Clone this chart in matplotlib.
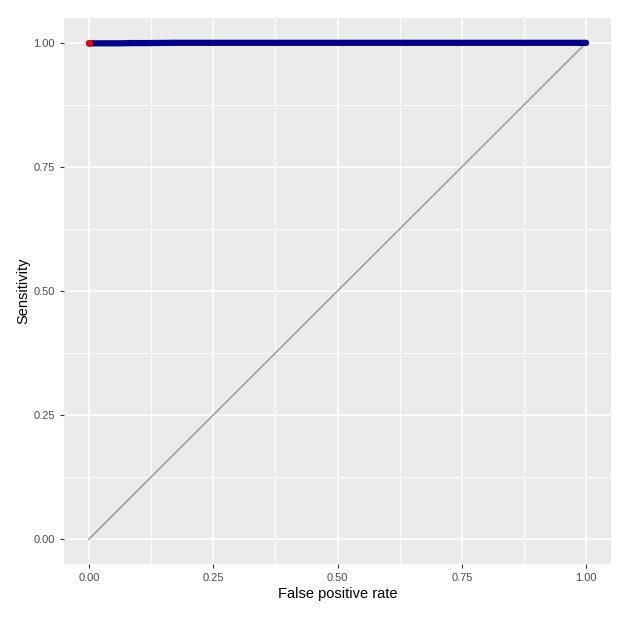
import numpy as np
import matplotlib
matplotlib.use('Agg')
import matplotlib.pyplot as plt

plt.rcParams['font.family'] = ['Liberation Sans', 'DejaVu Sans']

# ROC curve values
fpr = [0.0, 0.005, 0.01, 0.03, 0.06, 0.09, 0.12, 0.17, 0.25, 0.35, 0.5, 0.6, 0.7, 0.8, 0.9, 0.95, 1.0]
sensitivity = [0.999, 0.999, 0.999, 0.999, 0.999, 0.9995, 0.9995, 1.0, 1.0, 1.0, 1.0, 1.0, 1.0, 1.0, 1.0, 1.0, 1.0]
best_point = (0.0, 0.999)

ticks = [0.0, 0.25, 0.5, 0.75, 1.0]
tick_labels = ['0.00', '0.25', '0.50', '0.75', '1.00']
minor = [0.125, 0.375, 0.625, 0.875]

fig = plt.figure(figsize=(6.2, 6.2), dpi=100)
ax = fig.add_axes([64 / 620, 56 / 620, 547 / 620, 546 / 620])
ax.set_facecolor('#EBEBEB')
for s in ax.spines.values():
    s.set_visible(False)

for m in minor:
    ax.axvline(m, color='white', lw=0.6, zorder=0)
    ax.axhline(m, color='white', lw=0.6, zorder=0)
for t in ticks:
    ax.axvline(t, color='white', lw=1.2, zorder=0)
    ax.axhline(t, color='white', lw=1.2, zorder=0)

ax.plot([0, 1], [0, 1], color='#A0A0A0', lw=1.2, zorder=2)
ax.plot(fpr, sensitivity, color='#00008B', lw=4.5, solid_capstyle='round', zorder=3)
ax.plot(*best_point, 'o', color='red', ms=4, zorder=4)

ax.set_xlim(-0.05, 1.05)
ax.set_ylim(-0.05, 1.05)
ax.set_xticks(ticks)
ax.set_xticklabels(tick_labels)
ax.set_yticks(ticks)
ax.set_yticklabels(tick_labels)
ax.tick_params(length=3, color='#333333', labelcolor='#4D4D4D', labelsize=8)
ax.set_xlabel('False positive rate', fontsize=10.5, labelpad=3)
ax.set_ylabel('Sensitivity', fontsize=10.5, labelpad=2)

fig.savefig('out.png', dpi=100)
